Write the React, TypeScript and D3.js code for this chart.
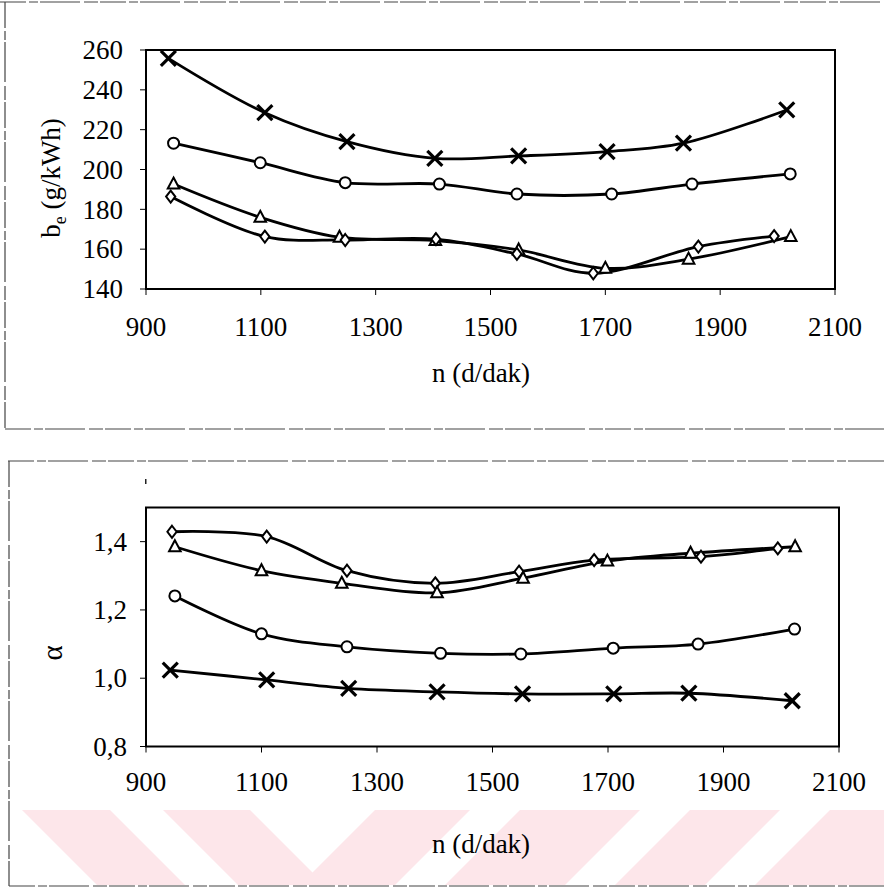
import React from "react";
import * as d3 from "d3";

// Engine speed axis (d/dak)
const rpmTicks = [900, 1100, 1300, 1500, 1700, 1900, 2100];

// Specific fuel consumption b_e (g/kWh)
const beTicks = [140, 160, 180, 200, 220, 240, 260];
const beCrossN = [939, 1107, 1250, 1403, 1549, 1703, 1836, 2016];
const beCross = [255.8, 228.5, 214, 205.6, 206.8, 209, 213.2, 229.9];
const beCircleN = [948, 1099, 1247, 1411, 1546, 1711, 1851, 2022];
const beCircle = [213.2, 203.4, 193.4, 192.7, 187.7, 187.7, 192.7, 197.8];
const beTriN = [948, 1099, 1237, 1404, 1549, 1700, 1845, 2023];
const beTri = [192.7, 176, 166, 164.3, 159.6, 150.4, 155, 166.3];
const beDiaN = [943, 1107, 1247, 1405, 1546, 1679, 1862, 1994];
const beDia = [186.4, 166.3, 164.6, 165, 157.6, 147.9, 161.3, 166.6];

// Excess air coefficient alpha
const alphaTicks = [0.8, 1.0, 1.2, 1.4];
const alphaTickLabels = ["0,8", "1,0", "1,2", "1,4"];
const aDiaN = [945, 1109, 1248, 1401, 1546, 1676, 1861, 1994];
const aDia = [1.429, 1.415, 1.315, 1.278, 1.312, 1.346, 1.356, 1.38];
const aTriN = [950, 1100, 1239, 1404, 1553, 1699, 1843, 2024];
const aTri = [1.385, 1.315, 1.278, 1.25, 1.293, 1.343, 1.366, 1.385];
const aCircleN = [950, 1100, 1248, 1410, 1549, 1709, 1856, 2023];
const aCircle = [1.241, 1.13, 1.092, 1.073, 1.071, 1.088, 1.1, 1.144];
const aCrossN = [942, 1109, 1251, 1404, 1552, 1710, 1840, 2019];
const aCross = [1.024, 0.995, 0.97, 0.96, 0.954, 0.954, 0.956, 0.934];

const FONT = "'Liberation Serif', 'Times New Roman', 'DejaVu Serif', serif";
const FS = 27;

type Marker = "cross" | "circle" | "triangle" | "diamond";

function MarkerShape({ kind, x, y }: { kind: Marker; x: number; y: number }) {
  if (kind === "cross") {
    return (
      <g transform={`translate(${x},${y})`} stroke="#000" strokeWidth={3.2} strokeLinecap="butt">
        <line x1={-7.5} y1={-7.5} x2={7.5} y2={7.5} />
        <line x1={-7.5} y1={7.5} x2={7.5} y2={-7.5} />
      </g>
    );
  }
  if (kind === "circle") {
    return <circle cx={x} cy={y} r={5.5} fill="#fff" stroke="#000" strokeWidth={2} />;
  }
  if (kind === "triangle") {
    return (
      <polygon
        transform={`translate(${x},${y})`}
        points="0,-6.5 5.8,4.5 -5.8,4.5"
        fill="#fff"
        stroke="#000"
        strokeWidth={2}
      />
    );
  }
  return (
    <polygon
      transform={`translate(${x},${y})`}
      points="0,-6 4.6,0 0,6 -4.6,0"
      fill="#fff"
      stroke="#000"
      strokeWidth={2}
    />
  );
}

type Series = { n: number[]; v: number[]; marker: Marker };

function Panel({
  x,
  y,
  series,
  yTicks,
  yLabels,
  yTickLabelX,
  title,
  titleY,
  tickLabelY,
}: {
  x: d3.ScaleLinear<number, number>;
  y: d3.ScaleLinear<number, number>;
  series: Series[];
  yTicks: number[];
  yLabels: string[];
  yTickLabelX: number;
  title: string;
  titleY: number;
  tickLabelY: number;
}) {
  const [x0, x1] = x.range();
  const [yb, yt] = y.range();
  const line = d3
    .line<[number, number]>()
    .x((d) => x(d[0]))
    .y((d) => y(d[1]))
    .curve(d3.curveCatmullRom.alpha(0.5));
  return (
    <g>
      <rect x={x0} y={yt} width={x1 - x0} height={yb - yt} fill="none" stroke="#000" strokeWidth={2} />
      {yTicks.map((t, i) => (
        <g key={"yt" + i}>
          <line x1={x0 - 6} x2={x0} y1={y(t)} y2={y(t)} stroke="#000" strokeWidth={1} />
          <text
            x={yTickLabelX}
            y={y(t)}
            dy="0.34em"
            textAnchor="end"
            fontFamily={FONT}
            fontSize={FS}
            fill="#000"
          >
            {yLabels[i]}
          </text>
        </g>
      ))}
      {rpmTicks.map((t) => (
        <g key={"xt" + t}>
          <line x1={x(t)} x2={x(t)} y1={yb} y2={yb + 6} stroke="#000" strokeWidth={1} />
          <text x={x(t)} y={tickLabelY} textAnchor="middle" fontFamily={FONT} fontSize={FS} fill="#000">
            {t}
          </text>
        </g>
      ))}
      <text x={481} y={titleY} textAnchor="middle" fontFamily={FONT} fontSize={FS} fill="#000">
        {title}
      </text>
      {series.map((s, i) => (
        <path
          key={"l" + i}
          d={line(s.n.map((n, j) => [n, s.v[j]] as [number, number])) || ""}
          fill="none"
          stroke="#000"
          strokeWidth={2.8}
        />
      ))}
      {series.map((s, i) =>
        s.n.map((n, j) => <MarkerShape key={`m${i}-${j}`} kind={s.marker} x={x(n)} y={y(s.v[j])} />)
      )}
    </g>
  );
}

// Watermark band along the bottom edge
const bandTop = 810;
const bandBottom = 885;
const backslashStripes = [
  [22, 110],
  [163, 250],
];
const slashStripes = [
  [300, 395],
  [445, 565],
  [615, 705],
  [755, 884],
];

export default function App() {
  const xTop = d3.scaleLinear().domain([900, 2100]).range([146, 835]);
  const yTop = d3.scaleLinear().domain([140, 260]).range([289, 50]);
  const xBot = d3.scaleLinear().domain([900, 2100]).range([146, 839]);
  const yBot = d3.scaleLinear().domain([0.8, 1.5]).range([746.5, 507.5]);
  const slant = bandBottom - bandTop;

  return (
    <svg
      width={884}
      height={890}
      style={{ position: "absolute", left: 0, top: 0, background: "#fff" }}
    >
      <rect x={0} y={0} width={884} height={890} fill="#fff" />

      {/* watermark stripes */}
      <g fill="#fde6ea">
        {backslashStripes.map(([a, b], i) => (
          <polygon
            key={"bs" + i}
            points={`${a},${bandTop} ${b},${bandTop} ${b + slant},${bandBottom} ${a + slant},${bandBottom}`}
          />
        ))}
        {slashStripes.map(([a, b], i) => (
          <polygon
            key={"fs" + i}
            points={`${a},${bandBottom} ${b},${bandBottom} ${Math.min(884, b + slant)},${bandTop} ${a + slant},${bandTop}`}
          />
        ))}
      </g>

      {/* outer frames */}
      <g fill="none" stroke="#444" strokeWidth={1.2} strokeDasharray="26 3 9 2 40 4 14 2">
        <line x1={0} y1={2} x2={884} y2={2} />
        <line x1={5} y1={2} x2={5} y2={429} />
        <line x1={5} y1={429} x2={884} y2={429} />
        <line x1={8} y1={461} x2={884} y2={461} />
        <line x1={9} y1={461} x2={9} y2={886} />
        <line x1={9} y1={886} x2={884} y2={886} />
      </g>

      <Panel
        x={xTop}
        y={yTop}
        series={[
          { n: beCrossN, v: beCross, marker: "cross" },
          { n: beCircleN, v: beCircle, marker: "circle" },
          { n: beTriN, v: beTri, marker: "triangle" },
          { n: beDiaN, v: beDia, marker: "diamond" },
        ]}
        yTicks={beTicks}
        yLabels={beTicks.map(String)}
        yTickLabelX={123}
        title="n (d/dak)"
        titleY={382}
        tickLabelY={336}
      />
      <text
        transform="translate(60,178) rotate(-90)"
        textAnchor="middle"
        fontFamily={FONT}
        fontSize={FS}
        fill="#000"
      >
        b<tspan fontSize={18} dy={6}>e</tspan>
        <tspan dy={-6}> (g/kWh)</tspan>
      </text>

      <Panel
        x={xBot}
        y={yBot}
        series={[
          { n: aDiaN, v: aDia, marker: "diamond" },
          { n: aTriN, v: aTri, marker: "triangle" },
          { n: aCircleN, v: aCircle, marker: "circle" },
          { n: aCrossN, v: aCross, marker: "cross" },
        ]}
        yTicks={alphaTicks}
        yLabels={alphaTickLabels}
        yTickLabelX={127}
        title="n (d/dak)"
        titleY={853}
        tickLabelY={791}
      />
      <text
        transform="translate(62,653) rotate(-90)"
        textAnchor="middle"
        fontFamily={FONT}
        fontSize={29}
        fill="#000"
      >
        α
      </text>
      <rect x={145} y={479} width={1.5} height={5} fill="#222" />
    </svg>
  );
}
